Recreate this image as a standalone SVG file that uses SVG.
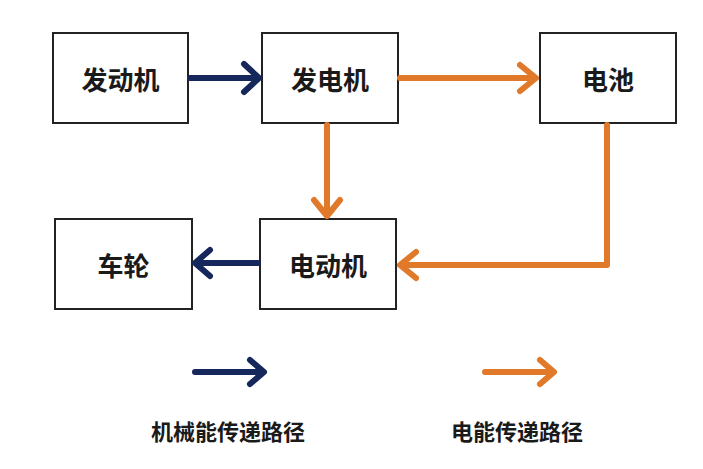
<svg xmlns="http://www.w3.org/2000/svg" width="703" height="469" viewBox="0 0 703 469">
<style>
.box{fill:#fff;stroke:#222;stroke-width:2}
.lbl{font-family:"Noto Sans CJK SC","Liberation Sans",sans-serif;font-weight:bold;font-size:26px;fill:#1a1a1a;text-anchor:middle;dominant-baseline:central}
.leg{font-family:"Noto Sans CJK SC","Liberation Sans",sans-serif;font-weight:bold;font-size:22px;fill:#1a1a1a;text-anchor:middle;dominant-baseline:central}
.b{fill:none;stroke:#16275c;stroke-width:6;stroke-linecap:round;stroke-linejoin:round}
.o{fill:none;stroke:#e07a2a;stroke-width:6;stroke-linecap:round;stroke-linejoin:round}
</style>
<rect width="703" height="469" fill="#fff"/>
<g id="engine"><rect class="box" x="53" y="33" width="135" height="90"/><text class="lbl" x="120.5" y="78">发动机</text></g>
<g id="generator"><rect class="box" x="262" y="33" width="136" height="90"/><text class="lbl" x="330" y="78">发电机</text></g>
<g id="battery"><rect class="box" x="540" y="33" width="136" height="90"/><text class="lbl" x="608" y="78">电池</text></g>
<g id="wheel"><rect class="box" x="55" y="219" width="137" height="90"/><text class="lbl" x="123.5" y="264">车轮</text></g>
<g id="motor"><rect class="box" x="260" y="219" width="136" height="90"/><text class="lbl" x="328" y="264">电动机</text></g>
<g id="connectors">
<path class="b" d="M190 78 H258 M244 64 L259 78 L244 92"/>
<path class="o" d="M400 78 H535 M520 65 L536 78 L520 91"/>
<path class="o" d="M327 125 V215 M314 200 L327 216 L340 200"/>
<path class="o" d="M607 125 V265 H401 M416 252 L400 265 L416 278"/>
<path class="b" d="M258 263 H196 M210 250 L195 263 L210 276"/>
</g>
<g id="legend">
<path class="b" d="M195 372 H262 M250 360 L264 372 L250 384"/>
<path class="o" d="M485 372 H552 M540 360 L554 372 L540 384"/>
<text class="leg" x="228" y="430">机械能传递路径</text>
<text class="leg" x="517" y="430">电能传递路径</text>
</g>
</svg>
